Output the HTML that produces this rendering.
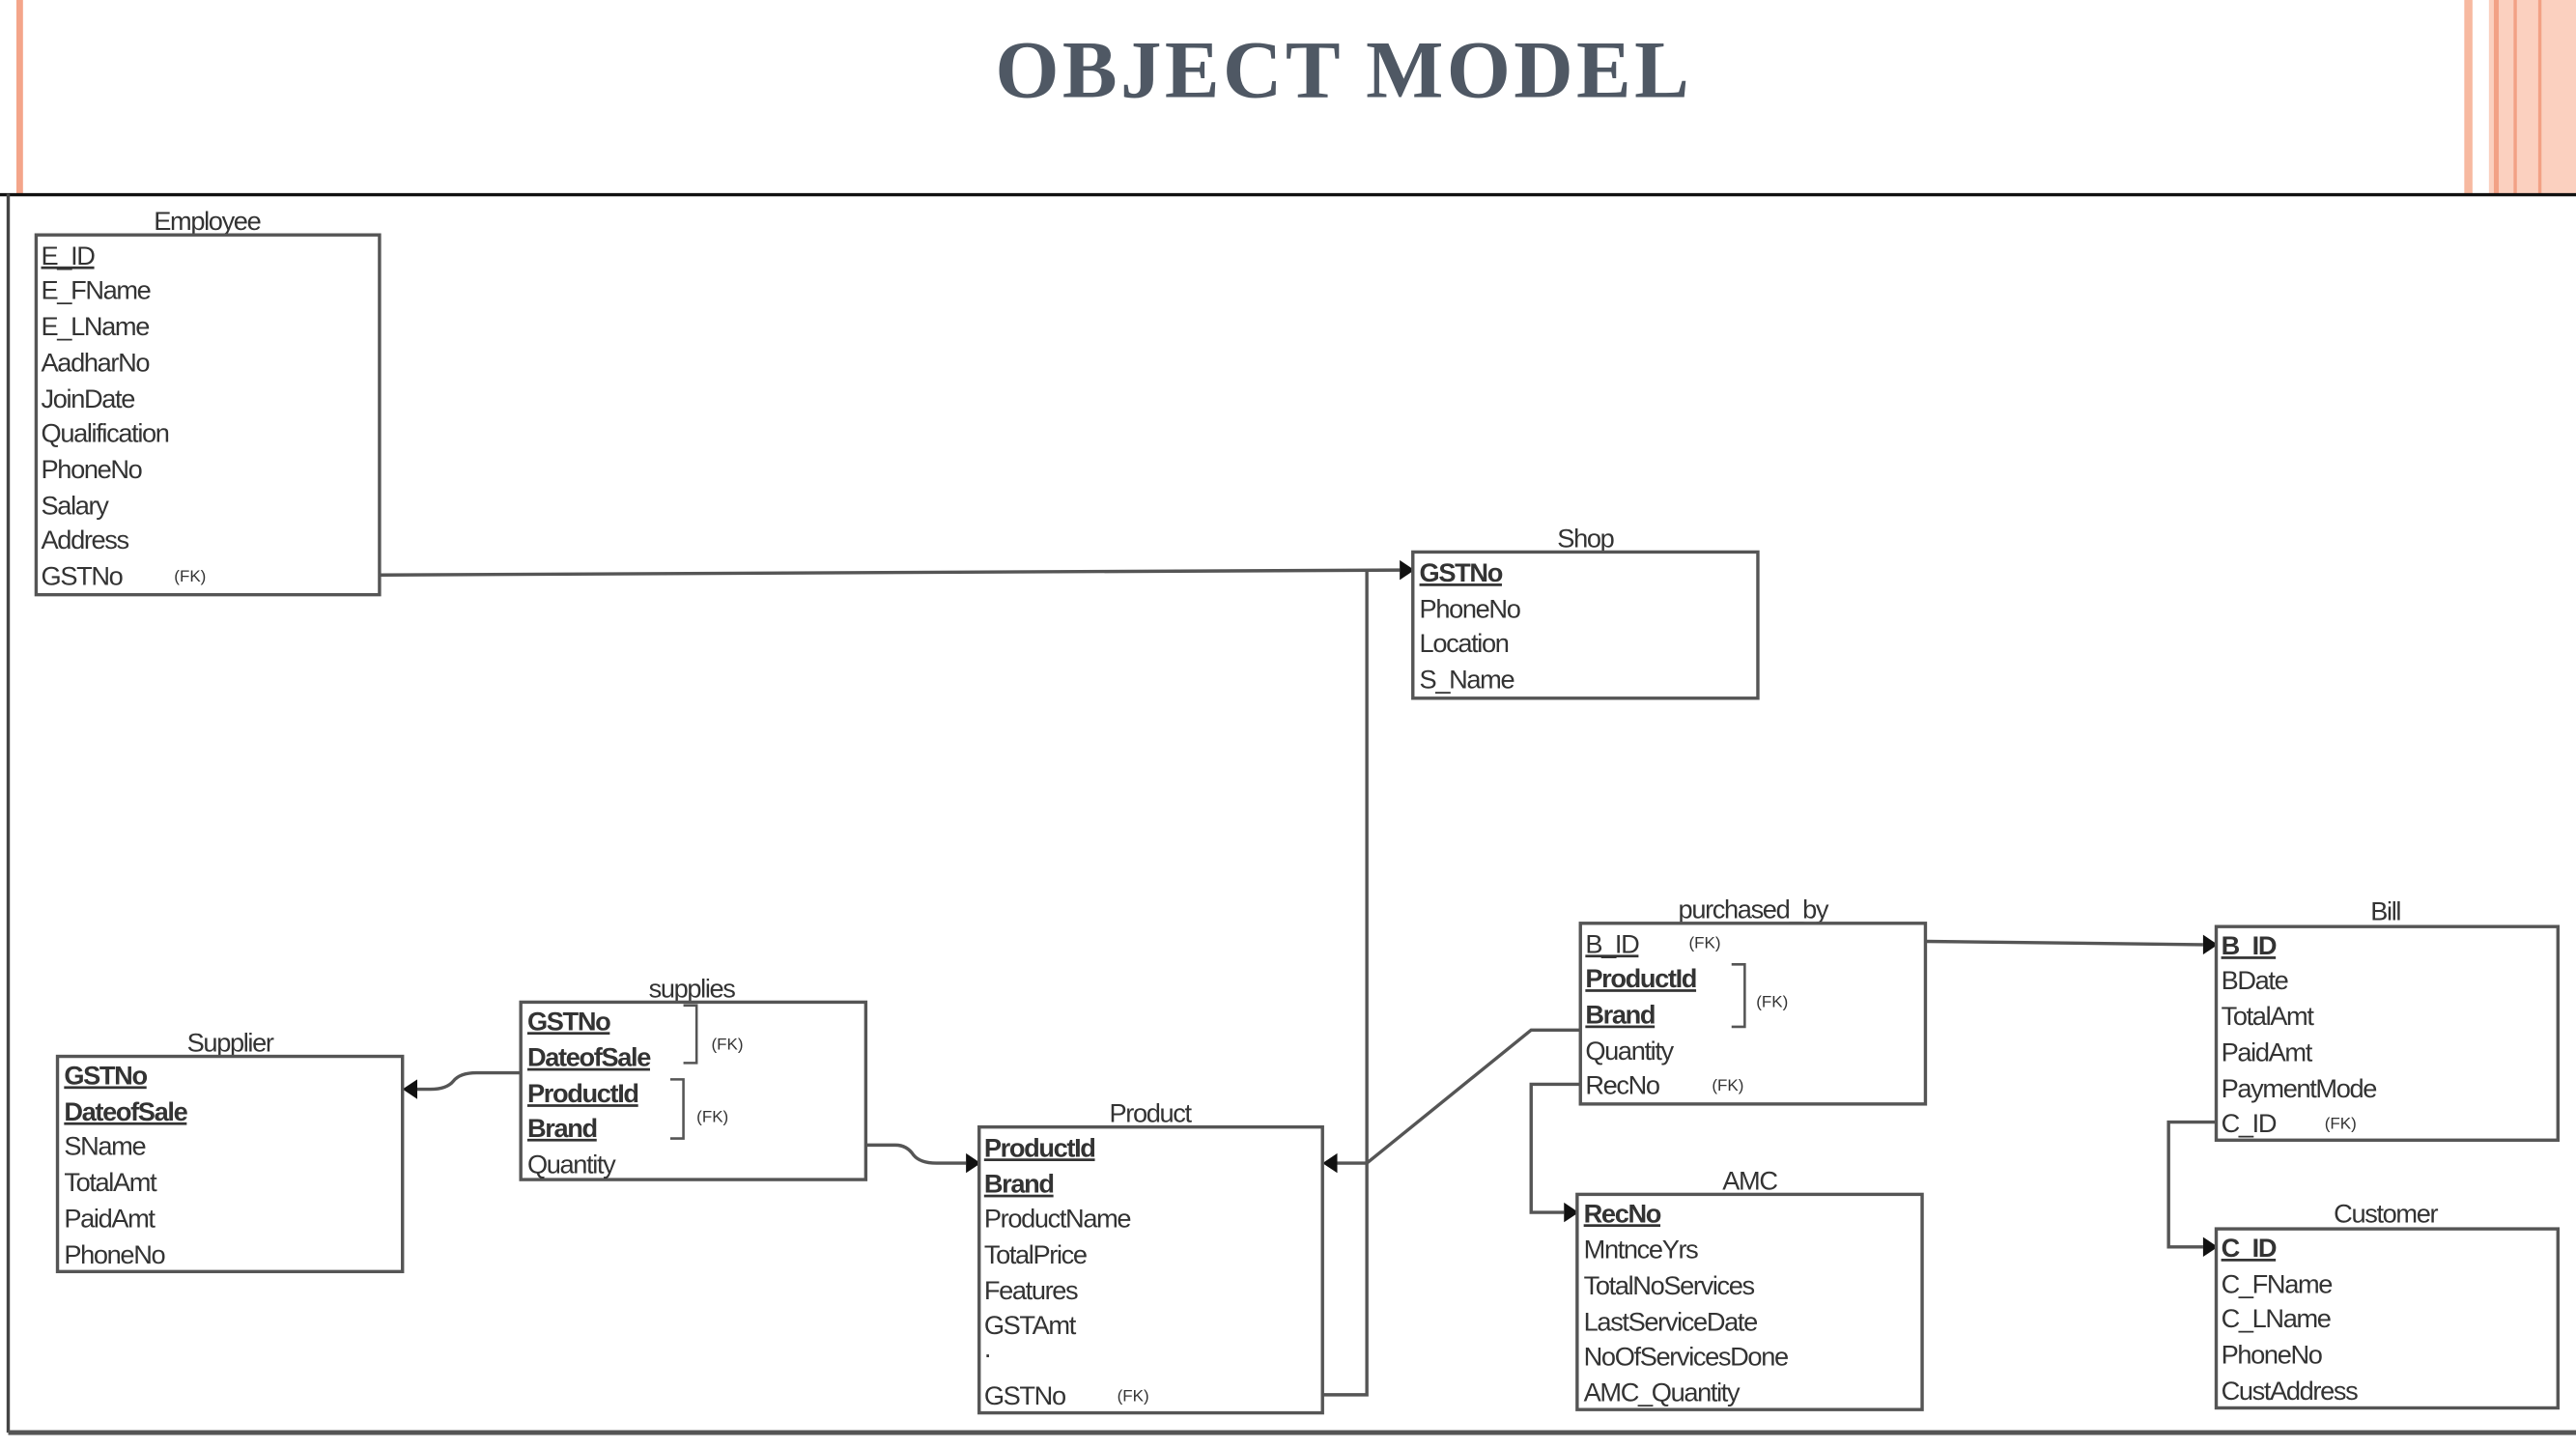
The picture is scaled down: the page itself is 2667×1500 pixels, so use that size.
<!DOCTYPE html>
<html><head><meta charset="utf-8"><style>
html,body{margin:0;padding:0;background:#fff;}
svg{display:block;}
text{font-family:"Liberation Sans",sans-serif;font-size:16px;fill:#333;letter-spacing:-0.8px;}
.t{text-anchor:middle;}
.b{font-weight:bold;text-decoration:underline;}
.u{text-decoration:underline;}
.fk{font-size:10px;letter-spacing:0;}
.box{fill:#fff;stroke:#555;stroke-width:2;}
.ln{fill:none;stroke:#555;stroke-width:2;}
</style></head><body>
<svg width="2667" height="1500" viewBox="0 0 1568 882" preserveAspectRatio="none" xmlns="http://www.w3.org/2000/svg">
<rect x="0" y="0" width="1568" height="882" fill="#fff"/>
<rect x="10" y="0" width="4" height="118" fill="#f4a58a"/>
<rect x="1500" y="0" width="5" height="118" fill="#f7b9a0"/>
<rect x="1515" y="0" width="53" height="118" fill="#fbd0bf"/>
<rect x="1518" y="0" width="3" height="118" fill="#f2a185"/>
<rect x="1530" y="0" width="2" height="118" fill="#f2a185"/>
<rect x="1545" y="0" width="2" height="118" fill="#f2a185"/>
<text x="818" y="59" class="t" style="font-family:'Liberation Serif',serif;font-weight:bold;font-size:50px;fill:#4f5864;letter-spacing:2px;">OBJECT MODEL</text>
<line x1="0" y1="118.5" x2="1568" y2="118.5" stroke="#111" stroke-width="2"/>
<line x1="5" y1="118" x2="5" y2="872" stroke="#444" stroke-width="2"/>
<line x1="5" y1="872" x2="1568" y2="872" stroke="#555" stroke-width="3"/>

<polyline class="ln" points="231,350 852,347"/>
<polygon points="861,347 852,341 852,353" fill="#111"/>
<polyline class="ln" points="832,347 832,849 805,849"/>
<path class="ln" d="M317,653 L290,653 Q280,653 276,658 Q272,663 262,663 L254,663"/>
<polygon points="245,663 254,657 254,669" fill="#111"/>
<path class="ln" d="M527,697 L545,697 Q552,697 556,703 Q560,708 570,708 L588,708"/>
<polygon points="597,708 588,702 588,714" fill="#111"/>
<polyline class="ln" points="962,627 932,627 832,708 814,708"/>
<polygon points="805,708 814,702 814,714" fill="#111"/>
<polyline class="ln" points="1172,573 1341,575"/>
<polygon points="1350,575 1341,569 1341,581" fill="#111"/>
<polyline class="ln" points="962,660 932,660 932,738 952,738"/>
<polygon points="961,738 952,732 952,744" fill="#111"/>
<polyline class="ln" points="1349,683 1320,683 1320,759 1341,759"/>
<polygon points="1350,759 1341,753 1341,765" fill="#111"/>

<text x="126" y="140" class="t">Employee</text>
<rect class="box" x="22" y="143" width="209" height="219"/>
<text x="25" y="161" class="u">E_ID</text>
<text x="25" y="182">E_FName</text>
<text x="25" y="204">E_LName</text>
<text x="25" y="226">AadharNo</text>
<text x="25" y="248">JoinDate</text>
<text x="25" y="269">Qualification</text>
<text x="25" y="291">PhoneNo</text>
<text x="25" y="313">Salary</text>
<text x="25" y="334">Address</text>
<text x="25" y="356">GSTNo</text><text x="106" y="354" class="fk">(FK)</text>

<text x="965" y="333" class="t">Shop</text>
<rect class="box" x="860" y="336" width="210" height="89"/>
<text x="864" y="354" class="b">GSTNo</text>
<text x="864" y="376">PhoneNo</text>
<text x="864" y="397">Location</text>
<text x="864" y="419">S_Name</text>

<text x="140" y="640" class="t">Supplier</text>
<rect class="box" x="35" y="643" width="210" height="131"/>
<text x="39" y="660" class="b">GSTNo</text>
<text x="39" y="682" class="b">DateofSale</text>
<text x="39" y="703">SName</text>
<text x="39" y="725">TotalAmt</text>
<text x="39" y="747">PaidAmt</text>
<text x="39" y="769">PhoneNo</text>

<text x="421" y="607" class="t">supplies</text>
<rect class="box" x="317" y="610" width="210" height="108"/>
<text x="321" y="627" class="b">GSTNo</text>
<text x="321" y="649" class="b">DateofSale</text>
<text x="321" y="671" class="b">ProductId</text>
<text x="321" y="692" class="b">Brand</text>
<text x="321" y="714">Quantity</text>
<polyline class="ln" points="416,612 424,612 424,647 416,647" style="stroke-width:1.5"/>
<text x="433" y="639" class="fk">(FK)</text>
<polyline class="ln" points="408,657 416,657 416,693 408,693" style="stroke-width:1.5"/>
<text x="424" y="683" class="fk">(FK)</text>

<text x="700" y="683" class="t">Product</text>
<rect class="box" x="596" y="686" width="209" height="174"/>
<text x="599" y="704" class="b">ProductId</text>
<text x="599" y="726" class="b">Brand</text>
<text x="599" y="747">ProductName</text>
<text x="599" y="769">TotalPrice</text>
<text x="599" y="791">Features</text>
<text x="599" y="812">GSTAmt</text>
<text x="599" y="826">.</text>
<text x="599" y="855">GSTNo</text><text x="680" y="853" class="fk">(FK)</text>

<text x="1067" y="559" class="t">purchased_by</text>
<rect class="box" x="962" y="562" width="210" height="110"/>
<text x="965" y="580" class="u">B_ID</text><text x="1028" y="577" class="fk">(FK)</text>
<text x="965" y="601" class="b">ProductId</text>
<text x="965" y="623" class="b">Brand</text>
<text x="965" y="645">Quantity</text>
<text x="965" y="666">RecNo</text><text x="1042" y="664" class="fk">(FK)</text>
<polyline class="ln" points="1054,587 1062,587 1062,625 1054,625" style="stroke-width:1.5"/>
<text x="1069" y="613" class="fk">(FK)</text>

<text x="1065" y="724" class="t">AMC</text>
<rect class="box" x="960" y="727" width="210" height="131"/>
<text x="964" y="744" class="b">RecNo</text>
<text x="964" y="766">MntnceYrs</text>
<text x="964" y="788">TotalNoServices</text>
<text x="964" y="810">LastServiceDate</text>
<text x="964" y="831">NoOfServicesDone</text>
<text x="964" y="853">AMC_Quantity</text>

<text x="1452" y="560" class="t">Bill</text>
<rect class="box" x="1349" y="564" width="208" height="130"/>
<text x="1352" y="581" class="b">B_ID</text>
<text x="1352" y="602">BDate</text>
<text x="1352" y="624">TotalAmt</text>
<text x="1352" y="646">PaidAmt</text>
<text x="1352" y="668">PaymentMode</text>
<text x="1352" y="689">C_ID</text><text x="1415" y="687" class="fk">(FK)</text>

<text x="1452" y="744" class="t">Customer</text>
<rect class="box" x="1349" y="748" width="208" height="109"/>
<text x="1352" y="765" class="b">C_ID</text>
<text x="1352" y="787">C_FName</text>
<text x="1352" y="808">C_LName</text>
<text x="1352" y="830">PhoneNo</text>
<text x="1352" y="852">CustAddress</text>
</svg>
</body></html>
